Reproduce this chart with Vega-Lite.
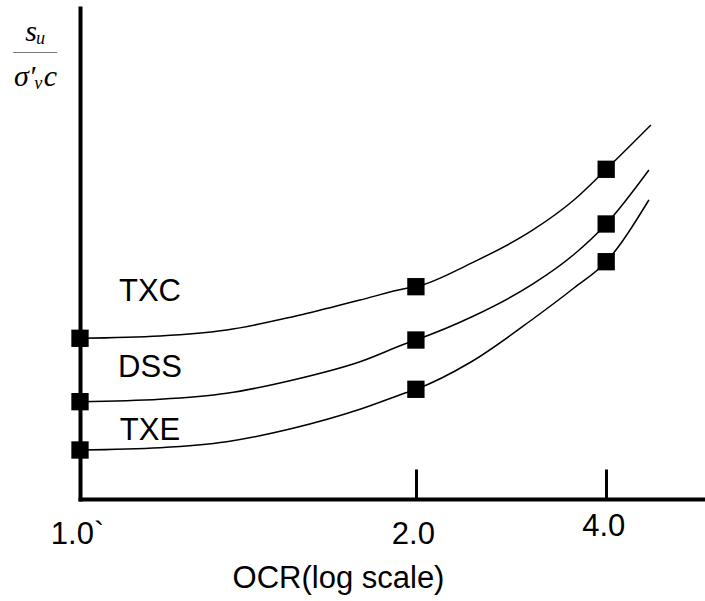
{
  "$schema": "https://vega.github.io/schema/vega-lite/v6.json",
  "width": 625,
  "height": 491,
  "autosize": {"type": "none"},
  "padding": {"left": 80, "top": 8, "right": 0, "bottom": 102},
  "background": "white",
  "title": {
    "text": "————",
    "anchor": "start",
    "frame": "group",
    "align": "center",
    "baseline": "middle",
    "font": "Liberation Serif",
    "fontSize": 11,
    "fontWeight": "bold",
    "color": "black",
    "dx": -45,
    "dy": 59
  },
  "config": {
    "view": {"stroke": null},
    "axis": {"grid": false, "domainColor": "black", "domainWidth": 4, "domainCap": "square", "tickColor": "black", "labelColor": "black", "titleColor": "black", "titleFontWeight": "normal"}
  },
  "datasets": {
    "curves": [
      {"series": "TXC", "ocr": 1, "ratio": 3.273, "marker": true},
      {"series": "TXC", "ocr": 1.1421, "ratio": 3.32, "marker": false},
      {"series": "TXC", "ocr": 1.2917, "ratio": 3.442, "marker": false},
      {"series": "TXC", "ocr": 1.4799, "ratio": 3.713, "marker": false},
      {"series": "TXC", "ocr": 1.7279, "ratio": 4.053, "marker": false},
      {"series": "TXC", "ocr": 1.9497, "ratio": 4.291, "marker": false},
      {"series": "TXC", "ocr": 2, "ratio": 4.324, "marker": true},
      {"series": "TXC", "ocr": 2.3549, "ratio": 4.8, "marker": false},
      {"series": "TXC", "ocr": 2.9193, "ratio": 5.479, "marker": false},
      {"series": "TXC", "ocr": 3.4469, "ratio": 6.09, "marker": false},
      {"series": "TXC", "ocr": 4, "ratio": 6.715, "marker": true},
      {"series": "TXC", "ocr": 5.0945, "ratio": 7.617, "marker": false},
      {"series": "DSS", "ocr": 1, "ratio": 1.982, "marker": true},
      {"series": "DSS", "ocr": 1.1421, "ratio": 2.031, "marker": false},
      {"series": "DSS", "ocr": 1.2917, "ratio": 2.153, "marker": false},
      {"series": "DSS", "ocr": 1.4799, "ratio": 2.424, "marker": false},
      {"series": "DSS", "ocr": 1.7279, "ratio": 2.796, "marker": false},
      {"series": "DSS", "ocr": 1.9497, "ratio": 3.171, "marker": false},
      {"series": "DSS", "ocr": 2, "ratio": 3.238, "marker": true},
      {"series": "DSS", "ocr": 2.3549, "ratio": 3.701, "marker": false},
      {"series": "DSS", "ocr": 2.9193, "ratio": 4.379, "marker": false},
      {"series": "DSS", "ocr": 3.4469, "ratio": 4.98, "marker": false},
      {"series": "DSS", "ocr": 4, "ratio": 5.601, "marker": true},
      {"series": "DSS", "ocr": 5.0343, "ratio": 6.701, "marker": false},
      {"series": "TXE", "ocr": 1, "ratio": 0.998, "marker": true},
      {"series": "TXE", "ocr": 1.1421, "ratio": 1.045, "marker": false},
      {"series": "TXE", "ocr": 1.2917, "ratio": 1.167, "marker": false},
      {"series": "TXE", "ocr": 1.4799, "ratio": 1.44, "marker": false},
      {"series": "TXE", "ocr": 1.7279, "ratio": 1.827, "marker": false},
      {"series": "TXE", "ocr": 1.9497, "ratio": 2.169, "marker": false},
      {"series": "TXE", "ocr": 2, "ratio": 2.234, "marker": true},
      {"series": "TXE", "ocr": 2.3549, "ratio": 2.79, "marker": false},
      {"series": "TXE", "ocr": 2.9193, "ratio": 3.666, "marker": false},
      {"series": "TXE", "ocr": 3.4469, "ratio": 4.297, "marker": false},
      {"series": "TXE", "ocr": 4, "ratio": 4.833, "marker": true},
      {"series": "TXE", "ocr": 5.0343, "ratio": 6.09, "marker": false}
    ],
    "labels": [
      {"series": "TXC", "ocr": 1.1224, "ratio": 4.226},
      {"series": "DSS", "ocr": 1.1224, "ratio": 2.668},
      {"series": "TXE", "ocr": 1.1224, "ratio": 1.375}
    ]
  },
  "layer": [
    {
      "data": {"name": "curves"},
      "mark": {"type": "line", "interpolate": "monotone", "color": "black", "strokeWidth": 1.5},
      "encoding": {
        "x": {
          "field": "ocr", "type": "quantitative",
          "scale": {"type": "pow", "exponent": -0.82, "domain": [1, 7.42], "nice": false, "zero": false},
          "axis": {
            "values": [1, 2, 4],
            "labelExpr": "datum.value === 1 ? '1.0`' : format(datum.value, '.1f')",
            "tickSize": -30, "tickWidth": 3,
            "labelPadding": {"condition": {"test": "datum.value === 4", "value": 66}, "value": 74},
            "labelBaseline": "alphabetic", "labelOffset": -3,
            "labelFont": "Liberation Sans", "labelFontSize": 31, "labelFlush": false, "labelOverlap": false,
            "title": "OCR(log scale)", "titleFont": "Liberation Sans", "titleFontSize": 31,
            "titleAnchor": null, "titleAlign": "center", "titleBaseline": "alphabetic",
            "titleX": 258, "titleY": 88
          }
        },
        "y": {
          "field": "ratio", "type": "quantitative",
          "scale": {"domain": [0, 10], "nice": false, "zero": false},
          "axis": {
            "ticks": false, "labels": false,
            "title": ["sᵤ", "σ′ᵥc"],
            "titleFont": "Liberation Serif", "titleFontStyle": "italic", "titleFontSize": 30,
            "titleAngle": 0, "titleAlign": "center", "titleBaseline": "alphabetic", "titleLineHeight": 45,
            "titleX": -45, "titleY": 32
          }
        },
        "detail": {"field": "series", "type": "nominal"}
      }
    },
    {
      "data": {"name": "curves"},
      "transform": [{"filter": "datum.marker"}],
      "mark": {"type": "point", "shape": "square", "filled": true, "color": "black", "size": 300, "opacity": 1},
      "encoding": {
        "x": {"field": "ocr", "type": "quantitative"},
        "y": {"field": "ratio", "type": "quantitative"}
      }
    },
    {
      "data": {"name": "labels"},
      "mark": {"type": "text", "font": "Liberation Sans", "fontSize": 31, "align": "center", "baseline": "middle", "color": "black"},
      "encoding": {
        "x": {"field": "ocr", "type": "quantitative"},
        "y": {"field": "ratio", "type": "quantitative"},
        "text": {"field": "series"}
      }
    }
  ]
}
